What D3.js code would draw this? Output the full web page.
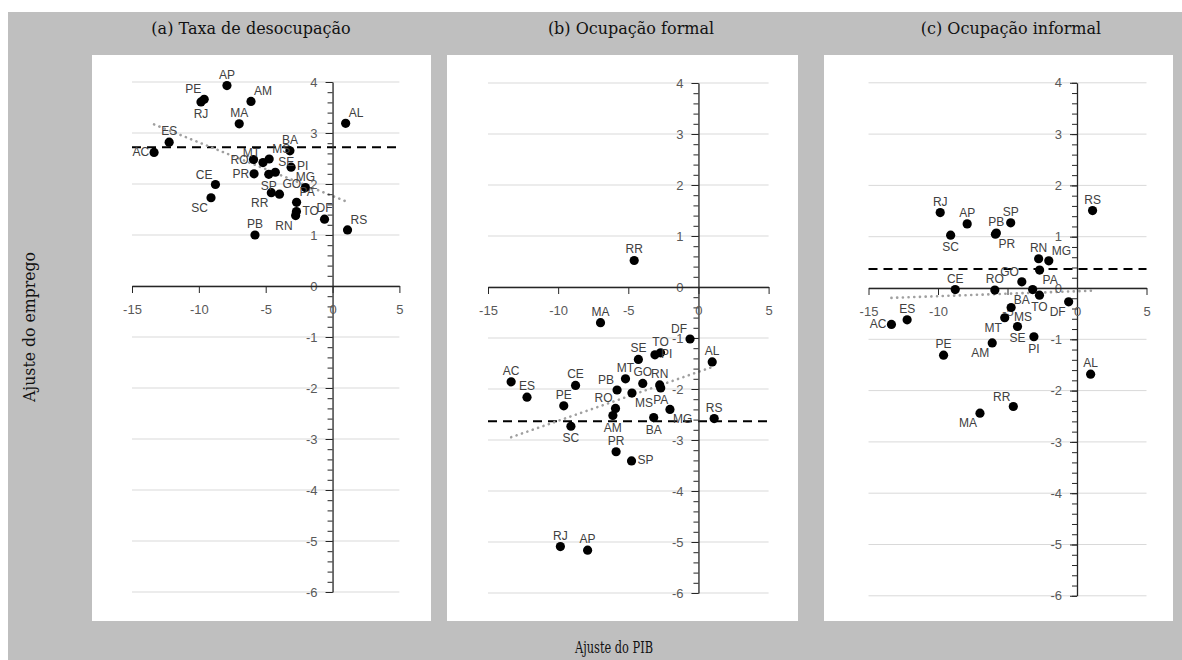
<!DOCTYPE html>
<html>
<head>
<meta charset="utf-8">
<script src="https://cdn.jsdelivr.net/npm/d3@7"></script>
<style>
  body { margin: 0; background: #fff; }
  .tick text { font-family: "Liberation Sans", Arial, sans-serif; font-size: 13px; fill: #595959; }
  .lbl { font-family: "Liberation Sans", Arial, sans-serif; font-size: 12px; fill: #404040; }
  .title { font-family: "DejaVu Serif", serif; font-size: 16px; fill: #111; }
</style>
</head>
<body>
<svg id="chart" width="1182" height="660"></svg>
<script>
// states (UF) and the GDP adjustment shared by all three panels
const states = ['AC','AL','AP','AM','BA','CE','DF','ES','GO','MA','MT','MS','MG','PA',
                'PB','PR','PE','PI','RJ','RN','RS','RO','RR','SC','SP','SE','TO'];
const pib = [-13.35, 0.98, -7.90, -6.10, -3.19, -8.76, -0.60, -12.22, -3.97, -6.98, -5.20, -4.74, -2.03, -2.69,
             -5.80, -5.87, -9.60, -3.10, -9.84, -2.76, 1.12, -5.91, -4.58, -9.09, -4.77, -4.28, -2.70];

// employment adjustment, one series per panel
const desocupacao = [2.62, 3.19, 3.93, 3.62, 2.65, 1.99, 1.31, 2.82, 1.80, 3.18, 2.42, 2.49, 1.93, 1.64,
                     1.00, 2.20, 3.66, 2.33, 3.61, 1.38, 1.10, 2.48, 1.83, 1.73, 2.19, 2.23, 1.46];
const formal = [-1.86, -1.47, -5.16, -2.52, -2.56, -1.93, -1.02, -2.16, -1.89, -0.70, -1.80, -2.08, -2.40, -1.98,
                -2.02, -3.23, -2.33, -1.33, -5.09, -1.92, -2.58, -2.38, 0.52, -2.73, -3.41, -1.42, -1.29];
const informal = [-0.71, -1.68, 1.25, -1.07, -0.03, -0.03, -0.27, -0.62, 0.12, -2.44, -0.58, -0.38, 0.53, 0.35,
                  1.07, 1.05, -1.31, -0.95, 1.47, 0.57, 1.51, -0.04, -2.31, 1.03, 1.27, -0.75, -0.14];

// horizontal dashed reference (national value)
const nacional = [2.72, -2.63, 0.37];

const titles = ['(a) Taxa de desocupação', '(b) Ocupação formal', '(c) Ocupação informal'];
const xTicks = [-15, -10, -5, 0, 5];
const yTicks = [4, 3, 2, 1, 0, -1, -2, -3, -4, -5, -6];

// label placement codes per panel (same order as states)
const labelPosA = ['l','tr','t','tr','t','tl','t','t','tr','t','tl','tr','t','tr',
                   't','l','tl','r','b','bl','tr','l','bl','bl','b','tr','r'];
const labelPosB = ['t','t','t','b','b','t','tl','t','t','t','t','br','br','b',
                   'tl','t','t','r','t','t','t','tl','t','b','r','t','t'];
const labelPosC = ['l','t','t','bl','bl','t','bl','t','tl','bl','bl','br','tr','br',
                   't','br','t','b','t','t','t','t','tl','b','t','b','b'];

const place = {
  t:  {dx: 0,  dy: -11, a: 'middle'},
  b:  {dx: 0,  dy: 12,  a: 'middle'},
  l:  {dx: -5, dy: 0,   a: 'end'},
  r:  {dx: 6,  dy: -1,  a: 'start'},
  tr: {dx: 3,  dy: -10, a: 'start'},
  tl: {dx: -3, dy: -10, a: 'end'},
  br: {dx: 3,  dy: 10,  a: 'start'},
  bl: {dx: -3, dy: 10,  a: 'end'}
};

const panels = [
  {title: titles[0], ys: desocupacao, ref: nacional[0], pos: labelPosA,
   box: [92, 431], xr: [132, 399.4], yr: [82, 592], tx: 251},
  {title: titles[1], ys: formal, ref: nacional[1], pos: labelPosB,
   box: [447, 798], xr: [488, 768.6], yr: [83, 593], tx: 631},
  {title: titles[2], ys: informal, ref: nacional[2], pos: labelPosC,
   box: [824, 1173], xr: [868.5, 1146.5], yr: [82.8, 595.8], tx: 1011}
];

const svg = d3.select('#chart');

svg.append('rect')
  .attr('x', 8).attr('y', 12)
  .attr('width', 1174).attr('height', 648)
  .attr('fill', '#bfbfbf');

svg.append('text')
  .attr('class', 'title')
  .attr('x', 614).attr('y', 653)
  .attr('text-anchor', 'middle')
  .attr('textLength', 78).attr('lengthAdjust', 'spacingAndGlyphs')
  .text('Ajuste do PIB');

svg.append('text')
  .attr('class', 'title')
  .attr('transform', 'translate(35,327) rotate(-90)')
  .attr('text-anchor', 'middle')
  .attr('textLength', 150).attr('lengthAdjust', 'spacingAndGlyphs')
  .text('Ajuste do emprego');

function regression(xs, ys) {
  const mx = d3.mean(xs), my = d3.mean(ys);
  let sxy = 0, sxx = 0;
  xs.forEach((x, i) => { sxy += (x - mx) * (ys[i] - my); sxx += (x - mx) * (x - mx); });
  const b = sxy / sxx;
  return x => my + b * (x - mx);
}

panels.forEach(p => {
  const g = svg.append('g');

  g.append('rect')
    .attr('x', p.box[0]).attr('y', 55)
    .attr('width', p.box[1] - p.box[0]).attr('height', 566)
    .attr('fill', '#fff');

  g.append('text')
    .attr('class', 'title')
    .attr('x', p.tx).attr('y', 34)
    .attr('text-anchor', 'middle')
    .text(p.title);

  const x = d3.scaleLinear().domain([-15, 5]).range(p.xr);
  const y = d3.scaleLinear().domain([4, -6]).range(p.yr);

  // gridlines
  g.append('g')
    .selectAll('line')
    .data(yTicks)
    .enter().append('line')
      .attr('x1', x(-15)).attr('x2', x(5))
      .attr('y1', d => y(d)).attr('y2', d => y(d))
      .attr('stroke', '#d9d9d9')
      .attr('stroke-width', 1);

  // national reference
  g.append('line')
    .attr('x1', x(-15)).attr('x2', x(5))
    .attr('y1', y(p.ref)).attr('y2', y(p.ref))
    .attr('stroke', '#000')
    .attr('stroke-width', 2)
    .attr('stroke-dasharray', '9,6');

  // linear trend
  const f = regression(pib, p.ys);
  const ext = d3.extent(pib);
  g.append('line')
    .attr('x1', x(ext[0])).attr('x2', x(ext[1]))
    .attr('y1', y(f(ext[0]))).attr('y2', y(f(ext[1])))
    .attr('stroke', '#a0a0a0')
    .attr('stroke-width', 2.6)
    .attr('stroke-linecap', 'round')
    .attr('stroke-dasharray', '0.1,5.6');

  // axes
  const minor = g.append('g')
    .attr('transform', `translate(${x(0)},0)`)
    .call(d3.axisLeft(y).tickValues(d3.range(-30, 21).map(d => d / 5)).tickSize(5).tickFormat(''));
  minor.select('.domain').remove();
  minor.selectAll('line').attr('stroke', '#333');

  const yAxis = g.append('g')
    .attr('transform', `translate(${x(0)},0)`)
    .call(d3.axisLeft(y).tickValues(yTicks).tickSize(7).tickSizeOuter(0).tickPadding(8)
      .tickFormat(d => String(d)));
  yAxis.attr('font-family', null).attr('font-size', null);

  const xAxis = g.append('g')
    .attr('transform', `translate(0,${y(0)})`)
    .call(d3.axisBottom(x).tickValues(xTicks).tickSize(7).tickSizeOuter(0).tickPadding(12)
      .tickFormat(d => String(d)));
  xAxis.attr('font-family', null).attr('font-size', null);

  g.selectAll('.domain').attr('stroke', '#262626').attr('stroke-width', 1.3);
  g.selectAll('.tick line').attr('stroke', '#262626');

  // points
  g.append('g')
    .selectAll('circle')
    .data(states)
    .enter().append('circle')
      .attr('cx', (d, i) => x(pib[i]))
      .attr('cy', (d, i) => y(p.ys[i]))
      .attr('r', 4.6)
      .attr('fill', '#000');

  // labels
  g.append('g')
    .selectAll('text')
    .data(states)
    .enter().append('text')
      .attr('class', 'lbl')
      .attr('x', (d, i) => x(pib[i]) + place[p.pos[i]].dx)
      .attr('y', (d, i) => y(p.ys[i]) + place[p.pos[i]].dy + 4)
      .attr('text-anchor', (d, i) => place[p.pos[i]].a)
      .text(d => d);
});
</script>
</body>
</html>
